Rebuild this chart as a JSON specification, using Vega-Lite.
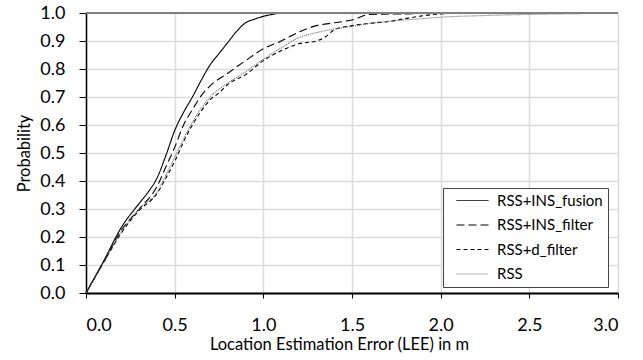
{
  "$schema": "https://vega.github.io/schema/vega-lite/v6.json",
  "width": 532,
  "height": 280,
  "autosize": "none",
  "padding": {"left": 86, "top": 13, "right": 25, "bottom": 67},
  "config": {"font": "Lato", "view": {"stroke": null}},
  "data": {"values": [
    {"s": "RSS+INS_fusion", "x": 0, "p": 0},
    {"s": "RSS+INS_fusion", "x": 0.1, "p": 0.115},
    {"s": "RSS+INS_fusion", "x": 0.2, "p": 0.235},
    {"s": "RSS+INS_fusion", "x": 0.3, "p": 0.32},
    {"s": "RSS+INS_fusion", "x": 0.35, "p": 0.36},
    {"s": "RSS+INS_fusion", "x": 0.4, "p": 0.41},
    {"s": "RSS+INS_fusion", "x": 0.45, "p": 0.49},
    {"s": "RSS+INS_fusion", "x": 0.5, "p": 0.58},
    {"s": "RSS+INS_fusion", "x": 0.55, "p": 0.645},
    {"s": "RSS+INS_fusion", "x": 0.6, "p": 0.7},
    {"s": "RSS+INS_fusion", "x": 0.65, "p": 0.76},
    {"s": "RSS+INS_fusion", "x": 0.7, "p": 0.815},
    {"s": "RSS+INS_fusion", "x": 0.75, "p": 0.855},
    {"s": "RSS+INS_fusion", "x": 0.8, "p": 0.895},
    {"s": "RSS+INS_fusion", "x": 0.85, "p": 0.935},
    {"s": "RSS+INS_fusion", "x": 0.9, "p": 0.965},
    {"s": "RSS+INS_fusion", "x": 0.95, "p": 0.978},
    {"s": "RSS+INS_fusion", "x": 1.0, "p": 0.988},
    {"s": "RSS+INS_fusion", "x": 1.05, "p": 0.995},
    {"s": "RSS+INS_fusion", "x": 1.1, "p": 1.0},
    {"s": "RSS+INS_fusion", "x": 3.0, "p": 1.0},
    {"s": "RSS+INS_filter", "x": 0, "p": 0},
    {"s": "RSS+INS_filter", "x": 0.1, "p": 0.11},
    {"s": "RSS+INS_filter", "x": 0.2, "p": 0.225},
    {"s": "RSS+INS_filter", "x": 0.3, "p": 0.3},
    {"s": "RSS+INS_filter", "x": 0.4, "p": 0.38},
    {"s": "RSS+INS_filter", "x": 0.45, "p": 0.45},
    {"s": "RSS+INS_filter", "x": 0.5, "p": 0.52},
    {"s": "RSS+INS_filter", "x": 0.55, "p": 0.6},
    {"s": "RSS+INS_filter", "x": 0.6, "p": 0.655},
    {"s": "RSS+INS_filter", "x": 0.65, "p": 0.705},
    {"s": "RSS+INS_filter", "x": 0.7, "p": 0.74},
    {"s": "RSS+INS_filter", "x": 0.8, "p": 0.785},
    {"s": "RSS+INS_filter", "x": 0.9, "p": 0.83},
    {"s": "RSS+INS_filter", "x": 1.0, "p": 0.872},
    {"s": "RSS+INS_filter", "x": 1.1, "p": 0.9},
    {"s": "RSS+INS_filter", "x": 1.2, "p": 0.932},
    {"s": "RSS+INS_filter", "x": 1.3, "p": 0.955},
    {"s": "RSS+INS_filter", "x": 1.4, "p": 0.965},
    {"s": "RSS+INS_filter", "x": 1.5, "p": 0.975},
    {"s": "RSS+INS_filter", "x": 1.6, "p": 0.995},
    {"s": "RSS+INS_filter", "x": 1.8, "p": 0.997},
    {"s": "RSS+INS_filter", "x": 2.0, "p": 1.0},
    {"s": "RSS+INS_filter", "x": 3.0, "p": 1.0},
    {"s": "RSS+d_filter", "x": 0, "p": 0},
    {"s": "RSS+d_filter", "x": 0.1, "p": 0.11},
    {"s": "RSS+d_filter", "x": 0.2, "p": 0.215},
    {"s": "RSS+d_filter", "x": 0.3, "p": 0.295},
    {"s": "RSS+d_filter", "x": 0.4, "p": 0.355},
    {"s": "RSS+d_filter", "x": 0.45, "p": 0.41},
    {"s": "RSS+d_filter", "x": 0.5, "p": 0.47},
    {"s": "RSS+d_filter", "x": 0.55, "p": 0.54},
    {"s": "RSS+d_filter", "x": 0.6, "p": 0.6},
    {"s": "RSS+d_filter", "x": 0.65, "p": 0.65},
    {"s": "RSS+d_filter", "x": 0.7, "p": 0.69},
    {"s": "RSS+d_filter", "x": 0.75, "p": 0.715},
    {"s": "RSS+d_filter", "x": 0.8, "p": 0.745},
    {"s": "RSS+d_filter", "x": 0.9, "p": 0.78},
    {"s": "RSS+d_filter", "x": 1.0, "p": 0.83},
    {"s": "RSS+d_filter", "x": 1.1, "p": 0.865},
    {"s": "RSS+d_filter", "x": 1.2, "p": 0.89},
    {"s": "RSS+d_filter", "x": 1.3, "p": 0.9},
    {"s": "RSS+d_filter", "x": 1.35, "p": 0.915},
    {"s": "RSS+d_filter", "x": 1.4, "p": 0.94},
    {"s": "RSS+d_filter", "x": 1.5, "p": 0.955},
    {"s": "RSS+d_filter", "x": 1.6, "p": 0.963},
    {"s": "RSS+d_filter", "x": 1.7, "p": 0.969},
    {"s": "RSS+d_filter", "x": 1.8, "p": 0.98},
    {"s": "RSS+d_filter", "x": 1.9, "p": 0.99},
    {"s": "RSS+d_filter", "x": 2.0, "p": 0.997},
    {"s": "RSS+d_filter", "x": 2.1, "p": 1.0},
    {"s": "RSS+d_filter", "x": 3.0, "p": 1.0},
    {"s": "RSS", "x": 0, "p": 0},
    {"s": "RSS", "x": 0.1, "p": 0.11},
    {"s": "RSS", "x": 0.2, "p": 0.22},
    {"s": "RSS", "x": 0.3, "p": 0.3},
    {"s": "RSS", "x": 0.4, "p": 0.36},
    {"s": "RSS", "x": 0.45, "p": 0.42},
    {"s": "RSS", "x": 0.5, "p": 0.485},
    {"s": "RSS", "x": 0.55, "p": 0.55},
    {"s": "RSS", "x": 0.6, "p": 0.61},
    {"s": "RSS", "x": 0.65, "p": 0.66},
    {"s": "RSS", "x": 0.7, "p": 0.7},
    {"s": "RSS", "x": 0.8, "p": 0.75},
    {"s": "RSS", "x": 0.9, "p": 0.79},
    {"s": "RSS", "x": 1.0, "p": 0.835},
    {"s": "RSS", "x": 1.1, "p": 0.875},
    {"s": "RSS", "x": 1.2, "p": 0.912},
    {"s": "RSS", "x": 1.3, "p": 0.93},
    {"s": "RSS", "x": 1.4, "p": 0.943},
    {"s": "RSS", "x": 1.5, "p": 0.952},
    {"s": "RSS", "x": 1.6, "p": 0.963},
    {"s": "RSS", "x": 1.7, "p": 0.97},
    {"s": "RSS", "x": 1.8, "p": 0.975},
    {"s": "RSS", "x": 1.9, "p": 0.98},
    {"s": "RSS", "x": 2.0, "p": 0.985},
    {"s": "RSS", "x": 2.2, "p": 0.99},
    {"s": "RSS", "x": 2.5, "p": 0.995},
    {"s": "RSS", "x": 2.8, "p": 0.998},
    {"s": "RSS", "x": 3.0, "p": 1.0}
  ]},
  "layer": [
    {
      "mark": {"type": "line", "strokeWidth": 1.1, "interpolate": "monotone"},
      "encoding": {
        "x": {"field": "x", "type": "quantitative",
          "scale": {"domain": [0, 3], "nice": false},
          "axis": {"values": [0, 0.5, 1, 1.5, 2, 2.5, 3], "format": ".1f", "labelFontSize": 18, "labelColor": "#000", "labelOverlap": false,
            "tickSize": 5, "tickColor": "#000", "domainColor": "#000", "domainWidth": 2,
            "gridColor": "#dcdcdc", "gridWidth": 1.5, "labelPadding": 18,
            "title": "Location Estimation Error (LEE) in m", "titleFontSize": 16.5, "titleFontWeight": "normal", "titleColor": "#000", "titlePadding": 2, "titleX": 253}},
        "y": {"field": "p", "type": "quantitative",
          "scale": {"domain": [0, 1], "nice": false},
          "axis": {"values": [0, 0.1, 0.2, 0.3, 0.4, 0.5, 0.6, 0.7, 0.8, 0.9, 1.0], "format": ".1f", "labelFontSize": 18, "labelColor": "#000", "labelOverlap": false,
            "tickSize": 7, "tickColor": "#000", "domainColor": "#000", "domainWidth": 1.5,
            "gridColor": "#dcdcdc", "gridWidth": 1.5, "labelPadding": 14,
            "title": "Probability", "titleFontSize": 16.5, "titleFontWeight": "normal", "titleColor": "#000", "titlePadding": 7}},
        "color": {"field": "s", "type": "nominal",
          "scale": {"domain": ["RSS+INS_fusion", "RSS+INS_filter", "RSS+d_filter", "RSS"], "range": ["#000", "#000", "#000", "#666"]},
          "legend": {"orient": "none", "legendX": 357, "legendY": 175, "title": null, "strokeColor": "#444", "fillColor": "white", "padding": 5,
            "symbolType": "M-3.2,0H3.2", "symbolSize": 100, "symbolOffset": 17, "symbolStrokeWidth": 1, "labelFontSize": 15, "labelColor": "#000", "rowPadding": 8.5, "labelOffset": 17}},
        "strokeDash": {"field": "s", "type": "nominal",
          "scale": {"domain": ["RSS+INS_fusion", "RSS+INS_filter", "RSS+d_filter", "RSS"], "range": [[1, 0], [8, 4], [4, 3], [1, 1]]},
          "legend": {"orient": "none", "legendX": 357, "legendY": 175, "title": null, "strokeColor": "#444", "fillColor": "white", "padding": 5,
            "symbolType": "M-3.2,0H3.2", "symbolSize": 100, "symbolOffset": 17, "symbolStrokeWidth": 1, "labelFontSize": 15, "labelColor": "#000", "rowPadding": 8.5, "labelOffset": 17}}
      }
    },
    {
      "mark": {"type": "rule", "color": "#808080", "strokeWidth": 2},
      "encoding": {"y": {"datum": 1, "type": "quantitative",
        "axis": {"values": [0, 0.1, 0.2, 0.3, 0.4, 0.5, 0.6, 0.7, 0.8, 0.9, 1.0], "format": ".1f", "labelFontSize": 18, "labelColor": "#000", "labelOverlap": false,
            "tickSize": 7, "tickColor": "#000", "domainColor": "#000", "domainWidth": 1.5,
            "gridColor": "#dcdcdc", "gridWidth": 1.5, "labelPadding": 14,
            "title": "Probability", "titleFontSize": 16.5, "titleFontWeight": "normal", "titleColor": "#000", "titlePadding": 7}}}
    }
  ]
}
